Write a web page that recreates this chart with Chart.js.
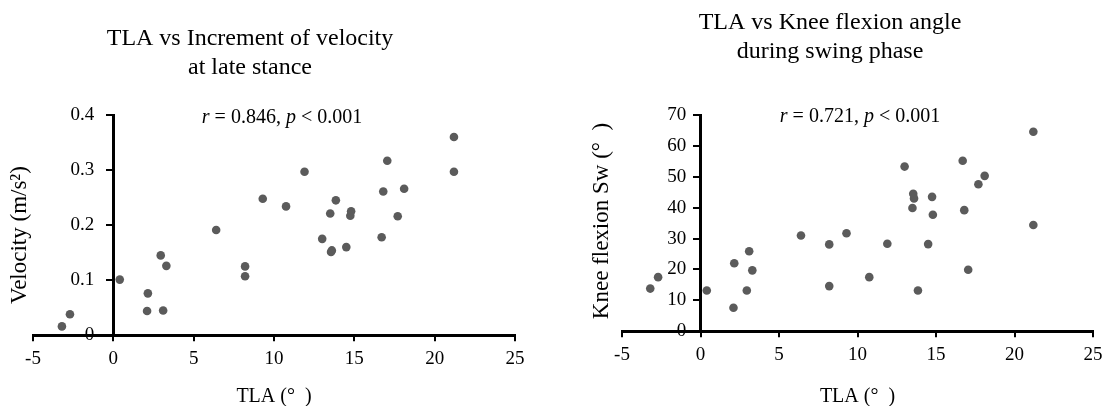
<!DOCTYPE html>
<html>
<head>
<meta charset="utf-8">
<script src="https://cdn.jsdelivr.net/npm/chart.js@4"></script>
<style>
  body { margin: 0; background: #fff; }
  canvas { position: absolute; top: 0; }
  #graph_velocity { left: 0; }
  #graph_knee { left: 555px; }
</style>
</head>
<body>
<canvas id="graph_velocity" width="555" height="406"></canvas>
<canvas id="graph_knee" width="554" height="406"></canvas>
<script>
// TLA (deg) for each subject, same order in both plots
const tla = [-3.2, -2.7, 0.4, 2.1, 2.15, 2.95, 3.1, 3.3, 6.4, 8.2, 8.2, 9.3, 10.75, 11.9, 13.0,
             13.5, 13.55, 13.6, 13.85, 14.5, 14.75, 14.8, 16.7, 16.8, 17.05, 17.7, 18.1, 21.2, 21.2];
const velocity = [0.016, 0.038, 0.101, 0.044, 0.076, 0.145, 0.045, 0.126, 0.191, 0.125, 0.107, 0.248, 0.234, 0.297, 0.175,
                  0.221, 0.151, 0.154, 0.245, 0.160, 0.217, 0.225, 0.178, 0.261, 0.317, 0.216, 0.266, 0.360, 0.297];
const kneeFlexion = [13.8, 17.5, 13.2, 7.6, 22.0, 13.2, 25.9, 19.7, 31.0, 14.6, 28.1, 31.7, 17.5, 28.3, 53.3,
                     39.9, 44.5, 43.0, 13.2, 28.2, 43.5, 37.7, 55.2, 39.2, 19.9, 47.6, 50.3, 64.6, 34.4];
const xRange = [-5, 25, 5];          // min, max, step
const velocityRange = [0, 0.4, 0.1];
const kneeRange = [0, 70, 10];

const serif = '"Liberation Serif", "DejaVu Serif", serif';

// titles, r/p text and rotated y title
const textPlugin = {
  id: 'texts',
  afterDraw(chart, args, opts) {
    const ctx = chart.ctx;
    ctx.save();
    ctx.fillStyle = '#000';
    ctx.textBaseline = 'alphabetic';
    ctx.textAlign = 'center';
    ctx.font = '24px ' + serif;
    opts.title.forEach((line, i) => ctx.fillText(line, opts.titleX, opts.titleY + i * 29));

    // r = ..., p < ...
    const parts = [['r', true], [' = ' + opts.r + ', ', false], ['p', true], [' < 0.001', false]];
    let total = 0;
    parts.forEach(p => {
      ctx.font = (p[1] ? 'italic ' : '') + '20px ' + serif;
      total += ctx.measureText(p[0]).width;
    });
    let x = opts.noteX - total / 2;
    ctx.textAlign = 'left';
    parts.forEach(p => {
      ctx.font = (p[1] ? 'italic ' : '') + '20px ' + serif;
      ctx.fillText(p[0], x, opts.noteY);
      x += ctx.measureText(p[0]).width;
    });

    ctx.translate(opts.yTitleX, opts.yTitleY);
    ctx.rotate(-Math.PI / 2);
    ctx.textAlign = 'center';
    ctx.textBaseline = 'middle';
    ctx.font = '23px ' + serif;
    ctx.fillText(opts.yTitle, 0, 0);
    ctx.restore();
  }
};

// the y axis sits at x = 0, Chart.js puts those labels flush on the line,
// so a little trailing space keeps them off the ticks
function faz_grafico(id, yValues, yRange, padding, titlePadTop, labelGap, texts) {
  const ctx = document.getElementById(id).getContext('2d');
  return new Chart(ctx, {
    type: 'scatter',
    data: {
      datasets: [{
        data: tla.map((v, i) => ({x: v, y: yValues[i]})),
        backgroundColor: '#5b5b5b',
        borderWidth: 0,
        pointRadius: 4.3,
        pointHoverRadius: 4.3
      }]
    },
    options: {
      responsive: false,
      animation: false,
      events: [],
      layout: { padding: padding },
      plugins: { legend: { display: false }, tooltip: { enabled: false }, texts: texts },
      scales: {
        x: {
          type: 'linear',
          position: 'bottom',
          min: xRange[0], max: xRange[1],
          border: { color: '#000', width: 3 },
          grid: { drawOnChartArea: false, color: '#000', lineWidth: 2, tickLength: 6 },
          ticks: { stepSize: xRange[2], color: '#000', padding: 6, font: { family: serif, size: 19 } },
          title: {
            display: true, text: 'TLA (°  )', color: '#000',
            font: { family: serif, size: 20 }, padding: { top: titlePadTop, bottom: 0 }
          }
        },
        y: {
          type: 'linear',
          position: { x: 0 },
          min: yRange[0], max: yRange[1],
          border: { color: '#000', width: 3 },
          grid: { drawOnChartArea: false, color: '#000', lineWidth: 2, tickLength: 6 },
          ticks: {
            stepSize: yRange[2], color: '#000', font: { family: serif, size: 19 },
            callback: function(v, i, ticks) {
              return Chart.Ticks.formatters.numeric.call(this, v, i, ticks) + labelGap;
            }
          }
        }
      }
    },
    plugins: [textPlugin]
  });
}

faz_grafico('graph_velocity', velocity, velocityRange,
  { left: 33, right: 40, top: 115, bottom: -3 }, 9, '\u2002\u2002',
  { title: ['TLA vs Increment of velocity', 'at late stance'], titleX: 250, titleY: 45,
    r: '0.846', noteX: 282, noteY: 123,
    yTitle: 'Velocity (m/s²)', yTitleX: 20, yTitleY: 235 });

faz_grafico('graph_knee', kneeFlexion, kneeRange,
  { left: 67, right: 16, top: 115, bottom: -3 }, 13, '\u2002 ',
  { title: ['TLA vs Knee flexion angle', 'during swing phase'], titleX: 275, titleY: 29,
    r: '0.721', noteX: 305, noteY: 122,
    yTitle: 'Knee flexion Sw (°  )', yTitleX: 47, yTitleY: 221 });
</script>
</body>
</html>
